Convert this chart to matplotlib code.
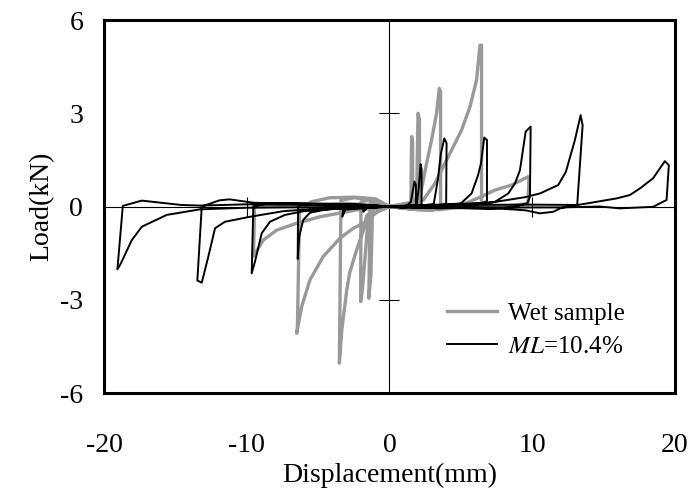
import numpy as np
import matplotlib.pyplot as plt

plt.rcParams['font.family'] = 'Liberation Serif'
plt.rcParams['mathtext.fontset'] = 'stix'
plt.rcParams['axes.unicode_minus'] = False

# wet sample, displacement (mm) / load (kN)
wet_disp = [0, 1.3, 1.5, 1.55, 1.62, 1.62, 1.0, 0,
            -0.8, -1.35, -1.45, -1.3, -1.2, -0.5, 0,
            1.7, 1.9, 2.0, 2.1, 2.1, 1.5, 0,
            -1.5, -2.0, -2.02, -1.9, -1.6, -1.5, 0,
            1.9, 2.14, 2.6, 2.95, 3.3, 3.49, 3.58, 3.58, 3.0, 2.0, 1.0, 0,
            -1.5, -2.5, -3.4, -3.51, -3.34, -2.99, -2.85, -2.77, -2.3, -1.83, -1.6, -1.0, 0,
            2.37, 3.19, 4.12, 5.05, 5.64, 6.1, 6.34, 6.45, 6.45, 5.5, 4.5, 3.5, 2.0, 0,
            -1.0, -2.5, -4.2, -5.5, -6.3, -6.45, -6.5, -6.15, -5.57, -4.64, -3.47, -2.54, -1.6, -1.0, 0,
            3.0, 5.05, 6.45, 7.39, 8.56, 9.72, 9.77, 9.7, 8.0, 0,
            -3.0, -7.0, -9.45, -9.53, -8.84, -7.9, -6.5, -4.87, -2.3, 0]
wet_load = [0, 0.0, 0.1, 2.25, 2.1, 0.05, -0.05, 0,
            0.1, 0.1, -2.95, -2.2, -0.3, -0.05, 0,
            0.05, 0.3, 3.0, 2.8, 0.05, -0.08, 0,
            0.2, 0.15, -3.06, -2.7, -1.0, -0.3, 0,
            0.0, 0.32, 1.39, 2.14, 3.0, 3.8, 3.7, 0.0, -0.12, -0.1, -0.05, 0,
            0.25, 0.28, 0.2, -5.04, -3.97, -2.68, -2.3, -2.1, -1.4, -0.76, -0.3, -0.05, 0,
            0.21, 0.75, 1.6, 2.46, 3.21, 4.07, 5.19, 5.19, 0.05, 0.0, -0.05, -0.1, -0.1, 0,
            0.25, 0.3, 0.28, 0.15, -0.11, -3.9, -4.08, -3.22, -2.36, -1.61, -1.02, -0.7, -0.49, -0.2, 0,
            0.0, 0.05, 0.32, 0.53, 0.69, 0.96, 0.9, 0.1, 0.0, 0,
            0.1, 0.05, 0.0, -1.6, -1.08, -0.76, -0.54, -0.33, -0.11, 0]

# ML = 10.4 %
ml_disp = [0, 1.2, 1.5, 1.75, 1.85, 1.85, 1.0, 0,
           1.9, 2.05, 2.18, 2.25, 2.25, 1.0, 0,
           -1.0, -1.83, -1.83, -1.6, -0.5, 0,
           2.0, 3.1, 3.4, 3.6, 3.84, 4.0, 3.97, 3.0, 1.5, 0,
           -1.5, -3.2, -3.3, -3.1, -1.5, 0,
           3.5, 5.0, 5.75, 6.2, 6.41, 6.64, 6.83, 6.83, 6.0, 5.0, 3.5, 2.0, 0,
           -2.0, -4.0, -5.5, -6.4, -6.43, -6.32, -6.04, -5.57, -4.5, -3.0, -1.5, 0,
           4.0, 6.5, 7.39, 8.32, 8.8, 9.14, 9.54, 9.89, 9.84, 9.65, 8.5, 7.0, 5.5, 3.0, 0,
           -3.0, -6.0, -8.5, -9.54, -9.65, -9.42, -8.95, -8.37, -7.32, -6.0, -4.0, -2.0, 0,
           3.0, 7.0, 9.5, 10.54, 11.82, 12.36, 12.99, 13.39, 13.53, 13.15, 12.0, 11.47, 10.54, 9.5, 7.5, 5.0, 0,
           -2.0, -6.0, -9.5, -11.2, -11.9, -13.15, -13.46, -13.15, -12.69, -12.22, -11.52, -9.77, -7.44, -5.0, -2.0, 0,
           3.0, 10.0, 13.2, 15.9, 16.84, 17.54, 18.47, 19.29, 19.57, 19.41, 18.47, 16.14, 14.74, 12.0, 8.0, 0,
           -5.0, -10.0, -13.27, -14.6, -17.35, -18.68, -19.06, -18.87, -18.05, -17.35, -15.6, -13.27, -10.0, -5.0, 0]
ml_load = [0, 0.02, 0.15, 0.8, 0.7, 0.05, -0.03, 0,
           0.05, 0.6, 1.36, 1.2, 0.05, -0.04, -0.02,
           0.03, 0.05, -0.17, -0.05, -0.02, 0,
           0.02, 0.08, 0.9, 1.7, 2.19, 2.04, 0.08, -0.05, -0.04, 0,
           0.05, 0.08, -0.33, -0.1, -0.05, 0,
           0.05, 0.1, 0.42, 1.0, 1.39, 2.22, 2.14, 0.17, 0.05, -0.04, -0.06, -0.03, 0,
           0.06, 0.08, 0.07, 0.04, -1.69, -0.97, -0.43, -0.2, -0.1, -0.05, -0.02, 0,
           0.05, 0.1, 0.15, 0.42, 0.75, 1.17, 2.41, 2.57, 0.32, 0.1, -0.03, -0.08, -0.06, -0.03, 0,
           0.07, 0.1, 0.1, 0.0, -2.15, -1.77, -0.86, -0.49, -0.27, -0.15, -0.08, -0.04, 0,
           0.05, 0.12, 0.3, 0.42, 0.69, 1.12, 2.14, 2.94, 2.62, 0.05, -0.05, -0.17, -0.22, -0.12, -0.06, -0.03, 0,
           0.04, 0.09, 0.12, 0.23, 0.2, 0.0, -2.38, -2.45, -1.61, -0.7, -0.49, -0.33, -0.15, -0.07, -0.03, 0,
           0.05, 0.06, 0.05, 0.26, 0.37, 0.58, 0.91, 1.46, 1.33, 0.21, -0.01, -0.06, 0.0, -0.03, -0.03, 0,
           0.05, 0.07, 0.03, 0.05, 0.19, 0.02, -2.02, -1.88, -1.08, -0.65, -0.27, -0.09, -0.04, -0.02, 0]

fig = plt.figure(figsize=(6.95, 4.99), dpi=100)
ax = fig.add_axes([0.1496, 0.2124, 0.8216, 0.7475])

ax.axhline(0, color='black', lw=0.8, zorder=1)
ax.axvline(0, color='black', lw=0.8, zorder=1)
# small crosses on the centre lines
ax.plot([-10, 10], [0, 0], ls='none', marker='|', ms=14, mew=0.8, color='black', zorder=1)
ax.plot([0, 0], [-3, 3], ls='none', marker='_', ms=14, mew=0.8, color='black', zorder=1)

ax.plot(wet_disp, wet_load, color='#999999', lw=2.4, label='Wet sample', zorder=2)
ax.plot(ml_disp, ml_load, color='black', lw=1.4, label=r'$\mathit{ML}$=10.4%', zorder=3)

ax.set_xlim(-20, 20)
ax.set_ylim(-6, 6)
ax.set_xticks([-20, -10, 0, 10, 20])
ax.set_yticks([-6, -3, 0, 3, 6])
ax.tick_params(length=0, labelsize=20)
ax.tick_params(axis='x', pad=29)
ax.tick_params(axis='y', pad=15)
for s in ax.spines.values():
    s.set_linewidth(2.2)

ax.set_xlabel('Displacement(mm)', fontsize=20, labelpad=3)
ax.set_ylabel('Load(kN)', fontsize=20, labelpad=4)

ax.legend(loc='lower left', bbox_to_anchor=(0.6, 0.095), frameon=False, fontsize=18,
          handlelength=2.0, handletextpad=0.45, labelspacing=0.4, borderpad=0, borderaxespad=0)

fig.savefig('out.png', dpi=100)
